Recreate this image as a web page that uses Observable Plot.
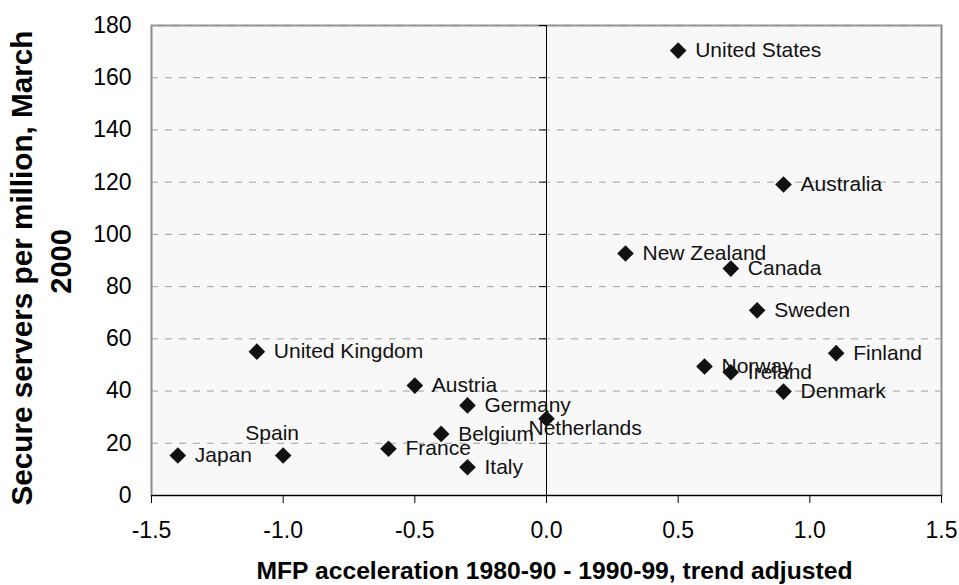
<!DOCTYPE html>
<html><head><meta charset="utf-8">
<script src="https://cdn.jsdelivr.net/npm/d3@7"></script>
<script src="https://cdn.jsdelivr.net/npm/@observablehq/plot@0.6"></script>
<style>body{margin:0;background:#fff;}</style>
</head><body><div id="chart"></div>
<script>
// ---- data ----
const countries = ["United States","Australia","New Zealand","Canada","Sweden","Finland","Norway","Ireland","Denmark",
  "United Kingdom","Austria","Germany","Netherlands","Belgium","France","Spain","Japan","Italy"];
const mfpAcceleration = [0.5, 0.9, 0.3, 0.7, 0.8, 1.1, 0.6, 0.7, 0.9,
  -1.1, -0.5, -0.3, 0.0, -0.4, -0.6, -1.0, -1.4, -0.3];
const secureServers = [170.4, 119.1, 92.7, 86.9, 70.9, 54.5, 49.4, 47.2, 39.8,
  55.1, 42.1, 34.5, 29.4, 23.6, 17.9, 15.3, 15.3, 10.8];
const xTicks = [-1.5, -1.0, -0.5, 0.0, 0.5, 1.0, 1.5];
const yTicks = [0, 20, 40, 60, 80, 100, 120, 140, 160, 180];
const xTitle = "MFP acceleration 1980-90 - 1990-99, trend adjusted";
const yTitleLine1 = "Secure servers per million, March";
const yTitleLine2 = "2000";

const data = countries.map((c, i) => ({country: c, x: mfpAcceleration[i], y: secureServers[i]}));
const special = ["Spain", "Netherlands"];

const font = "'Liberation Sans', Arial, Helvetica, sans-serif";

const chart = Plot.plot({
  width: 959, height: 585,
  marginLeft: 151, marginRight: 18, marginTop: 25, marginBottom: 90,
  style: {fontFamily: font, background: "#fff", color: "#000", overflow: "visible"},
  x: {domain: [-1.5, 1.5]},
  y: {domain: [0, 180]},
  marks: [
    Plot.frame({fill: "#f8f8f8", stroke: "#8c8c8c", strokeWidth: 2}),
    Plot.ruleY(yTicks.filter(d => d > 0), {stroke: "#a0a0a0", strokeDasharray: "7,7"}),
    Plot.ruleX([0], {stroke: "#000"}),
    Plot.ruleY(yTicks, {x1: -0.027, x2: 0, stroke: "#000"}),
    Plot.ruleY([0], {stroke: "#000"}),
    Plot.axisX({ticks: xTicks, tickSize: 8, tickPadding: 18, fontSize: 23, tickFormat: d => d.toFixed(1), label: null}),
    Plot.axisY({ticks: yTicks, tickSize: 0, tickPadding: 20, fontSize: 23, tickFormat: d => String(d), label: null}),
    Plot.dot(data, {x: "x", y: "y", symbol: "diamond2", r: 7.5, fill: "#111", stroke: "none"}),
    Plot.text(data, {filter: d => !special.includes(d.country), x: "x", y: "y", text: "country",
      textAnchor: "start", dx: 17, fontSize: 21, fill: "#111"}),
    Plot.text(data, {filter: d => d.country === "Spain", x: "x", y: "y", text: "country",
      textAnchor: "middle", dx: -11, dy: -22, fontSize: 21, fill: "#111"}),
    Plot.text(data, {filter: d => d.country === "Netherlands", x: "x", y: "y", text: "country",
      textAnchor: "start", dx: -18, dy: 10, fontSize: 21, fill: "#111"}),
    Plot.text([xTitle], {text: d => d, frameAnchor: "bottom", textAnchor: "middle", lineAnchor: "middle",
      dx: 8, dy: 76, fontSize: 24.5, fontWeight: "bold", fill: "#000"}),
    Plot.text([yTitleLine1], {text: d => d, frameAnchor: "left", textAnchor: "start", lineAnchor: "middle",
      rotate: -90, dx: -128.5, dy: 245, fontSize: 29, fontWeight: "bold", fill: "#000"}),
    Plot.text([yTitleLine2], {text: d => d, frameAnchor: "left", textAnchor: "middle", lineAnchor: "middle",
      rotate: -90, dx: -90, dy: 1, fontSize: 29, fontWeight: "bold", fill: "#000"})
  ]
});

// match the reference's title lengths exactly
d3.select(chart).selectAll("text").each(function() {
  const t = this.textContent;
  if (t === xTitle) { this.setAttribute("textLength", 596); this.setAttribute("lengthAdjust", "spacingAndGlyphs"); }
  if (t === yTitleLine1) { this.setAttribute("textLength", 475); this.setAttribute("lengthAdjust", "spacingAndGlyphs"); }
});

document.getElementById("chart").appendChild(chart);
</script>
</body></html>
